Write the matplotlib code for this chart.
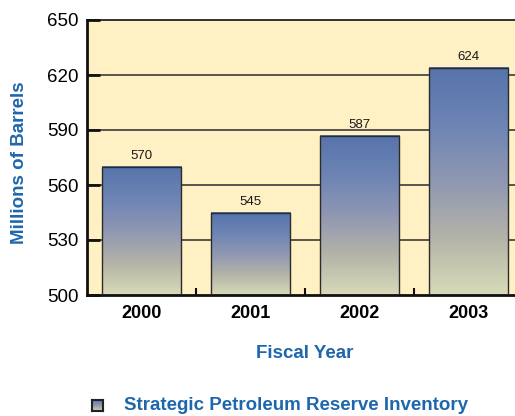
import numpy as np
import matplotlib
matplotlib.use("Agg")
import matplotlib.pyplot as plt
from matplotlib.colors import LinearSegmentedColormap
from matplotlib.patches import Rectangle

years = ["2000", "2001", "2002", "2003"]
inventory = [570, 545, 587, 624]
yticks = [500, 530, 560, 590, 620, 650]

plt.rcParams["font.family"] = ["Liberation Sans", "DejaVu Sans"]

blue = "#1f67ad"
bg = "#fff1c4"
grad = LinearSegmentedColormap.from_list(
    "spr", ["#d8dbb8", "#b4b3a8", "#8f97b2", "#6d84b4", "#5674ab"])

fig = plt.figure(figsize=(5.15, 4.16), dpi=100)
ax = fig.add_axes([87 / 515, 1 - 295 / 416, 436 / 515, 275 / 416])
ax.set_facecolor(bg)

# Gridlines behind bars.
for y in yticks[1:-1]:
    ax.axhline(y, color="#3a3a3a", lw=1.2, zorder=1)

width = 0.725
ramp = np.linspace(0, 1, 256).reshape(-1, 1)
for i, v in enumerate(inventory):
    x0 = i - width / 2
    ax.imshow(ramp, cmap=grad, origin="lower", aspect="auto",
              extent=(x0, x0 + width, 500, v), zorder=2, interpolation="bilinear")
    ax.add_patch(Rectangle((x0, 500), width, v - 500, fill=False,
                           edgecolor="#2b2b2b", lw=1.0, zorder=3))
    ax.text(i, v + 2.5, str(v), ha="center", va="bottom", fontsize=9.5,
            color="#1a1a1a", zorder=4)

ax.set_xlim(-0.5, 3.5)
ax.set_ylim(500, 650)

ax.set_yticks(yticks)
ax.set_yticklabels([str(t) for t in yticks], fontsize=13.5)
ax.tick_params(axis="y", direction="in", length=9, width=2, pad=6,
               color="#111111")
ax.set_xticks(range(len(years)))
ax.set_xticklabels(years, fontsize=13, fontweight="bold")
ax.tick_params(axis="x", length=0, pad=7)
ax.set_xticks([0.5, 1.5, 2.5], minor=True)
ax.tick_params(axis="x", which="minor", direction="in", length=5, width=1.5,
               color="#111111")

for side in ["left", "bottom", "top"]:
    ax.spines[side].set_linewidth(2)
    ax.spines[side].set_color("#111111")
ax.spines["top"].set_linewidth(1.2)
ax.spines["right"].set_visible(False)

fig.text(20 / 515, 1 - 163 / 416, "Millions of Barrels", rotation=90,
         ha="center", va="center", fontsize=13.5, fontweight="bold", color=blue)
fig.text(305 / 515, 1 - 354 / 416, "Fiscal Year", ha="center", va="center",
         fontsize=13.5, fontweight="bold", color=blue)

# Legend swatch and label.
lax = fig.add_axes([92 / 515, 1 - 411 / 416, 11 / 515, 11 / 416])
lax.imshow(ramp, cmap=grad, origin="lower", aspect="auto",
           extent=(0, 1, 0, 1))
for s in lax.spines.values():
    s.set_linewidth(1.5)
    s.set_color("#222222")
lax.set_xticks([])
lax.set_yticks([])
fig.text(124 / 515, 1 - 405 / 416, "Strategic Petroleum Reserve Inventory",
         ha="left", va="center", fontsize=13.5, fontweight="bold", color=blue)

fig.savefig("out.png", dpi=100)
